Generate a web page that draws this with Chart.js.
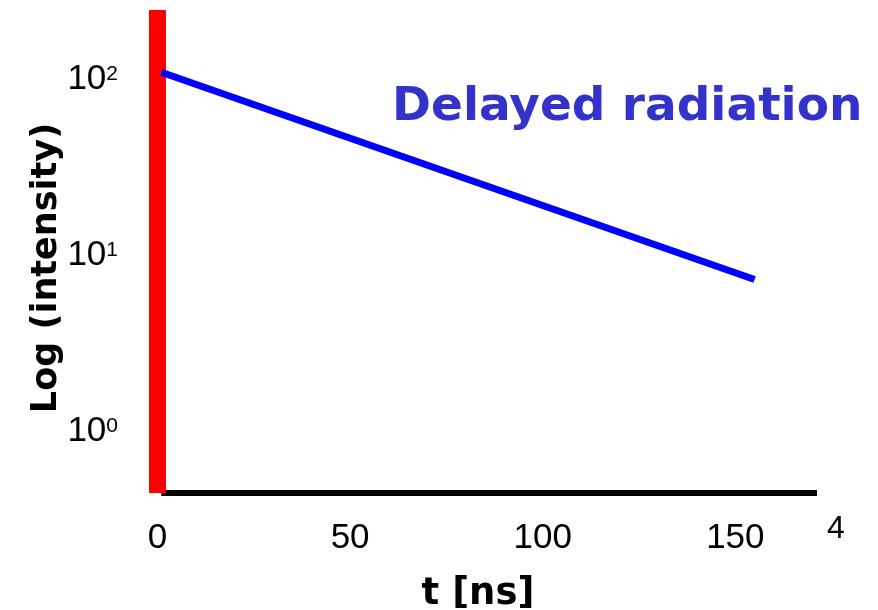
<!DOCTYPE html>
<html>
<head>
<meta charset="utf-8">
<script src="https://cdn.jsdelivr.net/npm/chart.js@4.4.0/dist/chart.umd.min.js"></script>
<style>
  html, body { margin: 0; padding: 0; background: #fff; }
  #wrap { width: 878px; height: 610px; position: relative; }
</style>
</head>
<body>
<div id="wrap"><canvas id="myChart" width="878" height="610"></canvas></div>
<script>
// decay curve (t in ns, intensity)
var decayT = [1.0, 155];
var decayI = [105, 7.0];

// excitation pulse at t = 0, spans the whole axis
var pulseT = [0, 0];
var pulseI = [0.43, 237];

// time axis baseline
var axisT = [1.0, 171.2];
var axisI = [0.43, 0.43];

var xTicks = [0, 50, 100, 150];
var yTickExp = [0, 1, 2];

var title = 'Delayed radiation';
var xTitle = 't [ns]';
var yTitle = 'Log (intensity)';
var pageNo = '4';

function pts(xs, ys) {
    return xs.map(function (x, i) { return { x: x, y: ys[i] }; });
}

// draws tick labels, axis titles and the big label
var labelsPlugin = {
    id: 'labels',
    afterDraw: function (chart) {
        var ctx = chart.ctx;
        var xs = chart.scales.x;
        var ys = chart.scales.y;
        ctx.save();
        ctx.fillStyle = '#000';
        ctx.textBaseline = 'alphabetic';

        // x tick labels
        ctx.font = '35px "Liberation Sans", Arial, sans-serif';
        ctx.textAlign = 'center';
        xTicks.forEach(function (t) {
            ctx.fillText(String(t), xs.getPixelForValue(t), 548);
        });

        // y tick labels as 10^n
        yTickExp.forEach(function (n) {
            var py = ys.getPixelForValue(Math.pow(10, n));
            ctx.font = '21px "Liberation Sans", Arial, sans-serif';
            var supW = ctx.measureText(String(n)).width;
            ctx.textAlign = 'right';
            ctx.fillText(String(n), 118, py + 4);
            ctx.font = '35px "Liberation Sans", Arial, sans-serif';
            ctx.fillText('10', 118 - supW, py + 12.5);
        });

        // axis titles
        ctx.font = 'bold 37px "DejaVu Sans", Verdana, sans-serif';
        ctx.textAlign = 'center';
        ctx.fillText(xTitle, 478, 604);

        ctx.save();
        ctx.translate(56, 268);
        ctx.rotate(-Math.PI / 2);
        ctx.font = 'bold 35px "DejaVu Sans", Verdana, sans-serif';
        ctx.fillText(yTitle, 0, 0);
        ctx.restore();

        // label on the plot
        ctx.fillStyle = '#3333CC';
        ctx.font = 'bold 47px "DejaVu Sans", Verdana, sans-serif';
        ctx.textAlign = 'left';
        ctx.fillText(title, 392, 120);

        // page number
        ctx.fillStyle = '#000';
        ctx.font = '32px "Liberation Sans", Arial, sans-serif';
        ctx.fillText(pageNo, 827, 538);

        ctx.restore();
    }
};

var ctx = document.getElementById('myChart').getContext('2d');
var myChart = new Chart(ctx, {
    type: 'line',
    data: {
        datasets: [
            {
                label: 'Delayed radiation',
                data: pts(decayT, decayI),
                borderColor: '#0000FF',
                borderWidth: 7,
                pointRadius: 0,
                clip: false
            },
            {
                label: 'Pulse',
                data: pts(pulseT, pulseI),
                borderColor: '#FF0000',
                borderWidth: 17,
                pointRadius: 0,
                clip: false
            },
            {
                label: 'Axis',
                data: pts(axisT, axisI),
                borderColor: '#000000',
                borderWidth: 6,
                pointRadius: 0,
                clip: false
            }
        ]
    },
    options: {
        responsive: false,
        animation: false,
        layout: {
            padding: { left: 149, right: 61, top: 10, bottom: 117 }
        },
        plugins: {
            legend: { display: false },
            tooltip: { enabled: false }
        },
        scales: {
            x: {
                type: 'linear',
                min: -2.2,
                max: 171.2,
                display: false
            },
            y: {
                type: 'logarithmic',
                min: 0.43,
                max: 237,
                display: false
            }
        }
    },
    plugins: [labelsPlugin]
});
</script>
</body>
</html>
